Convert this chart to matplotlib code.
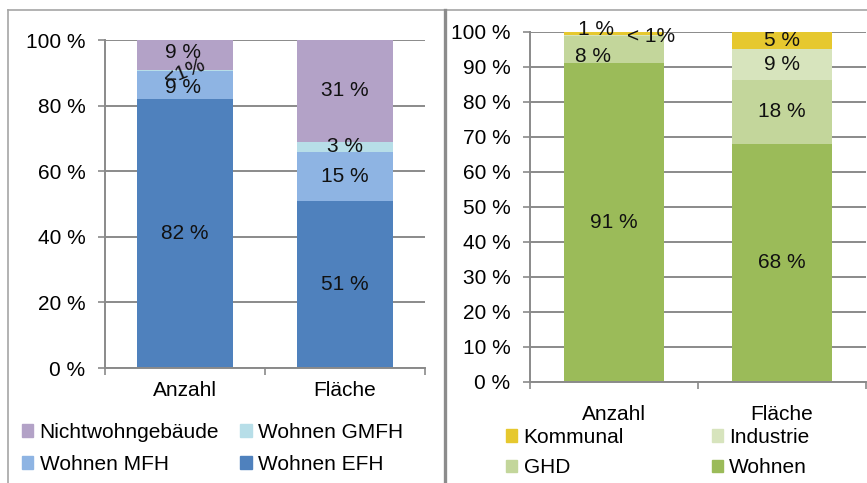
import matplotlib
matplotlib.use("Agg")
import matplotlib.pyplot as plt
from matplotlib.patches import Patch
from matplotlib.lines import Line2D
import numpy as np

plt.rcParams['font.family'] = ['Liberation Sans', 'DejaVu Sans']

# ---------------- data ----------------
categories = ["Anzahl", "Fläche"]

left_series = ["Wohnen EFH", "Wohnen MFH", "Wohnen GMFH", "Nichtwohngebäude"]
left_efh = [82.0, 51.0]
left_mfh = [8.6, 15.0]
left_gmfh = [0.4, 3.0]
left_nwg = [9.0, 31.0]
left_ticks = [0, 20, 40, 60, 80, 100]

right_series = ["Wohnen", "GHD", "Industrie", "Kommunal"]
right_wohnen = [91.0, 68.0]
right_ghd = [7.8, 18.2]
right_industrie = [0.3, 8.9]
right_kommunal = [0.9, 4.9]
right_ticks = [0, 10, 20, 30, 40, 50, 60, 70, 80, 90, 100]

# ---------------- style ----------------
left_colors = ["#4F81BD", "#8EB4E3", "#B7DEE8", "#B3A2C7"]
right_colors = ["#9BBB59", "#C3D69B", "#D7E4BD", "#E6C82E"]
GRID = "#8A8A8A"
FS = 15

def label_text(v):
    return "< 1%" if v < 0.5 else f"{int(round(v))} %"

W, H = 867, 483
fig = plt.figure(figsize=(W / 100, H / 100), dpi=100)

def setup(ax, ticks, xpad):
    x = np.arange(len(categories))
    ax.set_xlim(-0.5, 1.5)
    ax.set_ylim(0, 100)
    ax.set_yticks(ticks)
    ax.set_yticklabels([f"{t} %" for t in ticks], fontsize=FS)
    ax.set_xticks(x)
    ax.set_xticklabels(categories, fontsize=FS)
    ax.set_xticks([-0.5, 0.5, 1.5], minor=True)
    ax.tick_params(axis='x', which='major', length=0, pad=xpad)
    ax.tick_params(axis='x', which='minor', length=5, color=GRID, width=1.2, direction='out')
    ax.tick_params(axis='y', length=5, color=GRID, width=1.2, pad=9)
    ax.yaxis.grid(True, color=GRID, lw=1.4)
    ax.set_axisbelow(True)
    for s in ['top', 'right']:
        ax.spines[s].set_visible(False)
    for s in ['left', 'bottom']:
        ax.spines[s].set_color(GRID)
        ax.spines[s].set_linewidth(1.4)
    return x

def stack(ax, x, series_vals, names, colors, offsets, rots):
    bottom = np.zeros(len(x))
    handles = []
    for i, (vals, name, col) in enumerate(zip(series_vals, names, colors)):
        vals = np.array(vals)
        b = ax.bar(x, vals, 0.6, bottom=bottom, color=col, label=name, zorder=2)
        handles.append(b)
        for j in range(len(x)):
            dx, dy = offsets.get((j, i), (0, 0))
            txt = label_text(vals[j])
            if rots.get((j, i), 0):
                txt = txt.replace(" ", "")
            ax.text(x[j] + dx, bottom[j] + vals[j] / 2 + dy, txt,
                    ha='center', va='center', fontsize=FS, color='#111111',
                    rotation=rots.get((j, i), 0), zorder=3)
        bottom += vals
    return handles

# left axes
axL = fig.add_axes([105 / W, 1 - 368 / H, 320 / W, 328 / H])
xL = setup(axL, left_ticks, 9)
stack(axL, xL, [left_efh, left_mfh, left_gmfh, left_nwg], left_series, left_colors,
      offsets={(0, 1): (-0.01, -0.9), (0, 2): (0.0, -0.6), (0, 3): (-0.01, 0.8)},
      rots={(0, 2): 22})

# right axes
axR = fig.add_axes([530 / W, 1 - 381.7 / H, 336 / W, 350 / H])
xR = setup(axR, right_ticks, 17)
stack(axR, xR, [right_wohnen, right_ghd, right_industrie, right_kommunal], right_series, right_colors,
      offsets={(0, 1): (-0.125, -1.9), (0, 2): (0.22, -0.3), (0, 3): (-0.107, 1.2)},
      rots={})

# legends
lh = [Patch(color=left_colors[3]), Patch(color=left_colors[1]),
      Patch(color=left_colors[2]), Patch(color=left_colors[0])]
ll = [left_series[3], left_series[1], left_series[2], left_series[0]]
fig.legend(lh, ll, ncol=2, loc='upper left', bbox_to_anchor=(22 / W, 1 - 423 / H),
           frameon=False, fontsize=FS, handlelength=0.55, handleheight=0.55,
           handletextpad=0.3, columnspacing=1.0, labelspacing=0.62, borderpad=0, borderaxespad=0)

rh = [Patch(color=right_colors[3]), Patch(color=right_colors[1]),
      Patch(color=right_colors[2]), Patch(color=right_colors[0])]
rl = [right_series[3], right_series[1], right_series[2], right_series[0]]
fig.legend(rh, rl, ncol=2, loc='upper left', bbox_to_anchor=(506 / W, 1 - 428 / H),
           frameon=False, fontsize=FS, handlelength=0.55, handleheight=0.55,
           handletextpad=0.3, columnspacing=4.2, labelspacing=0.55, borderpad=0, borderaxespad=0)

# panel borders
fig.add_artist(Line2D([8 / W, 1], [1 - 10 / H, 1 - 10 / H], color="#A6A6A6", lw=1.2,
                      transform=fig.transFigure))
fig.add_artist(Line2D([8 / W, 8 / W], [0, 1 - 10 / H], color="#A6A6A6", lw=1.2,
                      transform=fig.transFigure))
fig.add_artist(Line2D([444.5 / W, 444.5 / W], [0, 1 - 10 / H], color="#8C8C8C", lw=2.4,
                      transform=fig.transFigure))

fig.savefig("out.png", dpi=100)
